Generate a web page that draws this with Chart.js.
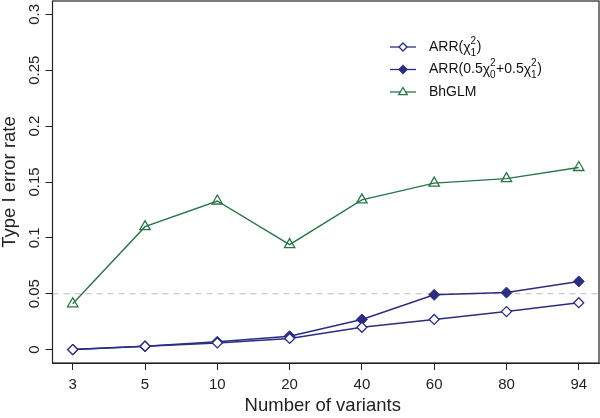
<!DOCTYPE html>
<html>
<head>
<meta charset="utf-8">
<script src="https://cdn.jsdelivr.net/npm/chart.js@4/dist/chart.umd.min.js"></script>
<style>
  html, body { margin: 0; padding: 0; background: #ffffff; }
  #wrap { width: 600px; height: 418px; }
</style>
</head>
<body>
<div id="wrap"><canvas id="c" width="600" height="418"></canvas></div>
<script>
// ---- data ----
const categories = ['3', '5', '10', '20', '40', '60', '80', '94'];
const arrChi1 = [0.000, 0.003, 0.006, 0.010, 0.020, 0.027, 0.034, 0.042];
const arrMix  = [0.000, 0.003, 0.007, 0.012, 0.027, 0.049, 0.051, 0.061];
const bhglm   = [0.041, 0.110, 0.133, 0.094, 0.134, 0.149, 0.153, 0.163];
const yTickValues = [0, 0.05, 0.1, 0.15, 0.2, 0.25, 0.3];
const yTickLabels = ['0', '0.05', '0.1', '0.15', '0.2', '0.25', '0.3'];
const refLevel = 0.05;
const xTitle = 'Number of variants';
const yTitle = 'Type I error rate';

// ---- styles ----
const NAVY = '#2b2d80';
const GREEN = '#2a7449';
const AXIS = '#222222';
const FONT = '"Liberation Sans", Arial, Helvetica, sans-serif';

const toPoints = arr => arr.map((v, i) => ({ x: i + 1, y: v }));

function drawMarker(ctx, style, x, y, r, fill, stroke, lw) {
  ctx.save();
  ctx.lineWidth = lw;
  ctx.strokeStyle = stroke;
  ctx.fillStyle = fill;
  ctx.beginPath();
  if (style === 'rectRot') {
    ctx.moveTo(x, y - r); ctx.lineTo(x + r, y); ctx.lineTo(x, y + r); ctx.lineTo(x - r, y);
  } else {
    ctx.moveTo(x, y - r); ctx.lineTo(x + r * 0.95, y + r * 0.6); ctx.lineTo(x - r * 0.95, y + r * 0.6);
  }
  ctx.closePath();
  ctx.fill();
  ctx.stroke();
  ctx.restore();
}

function drawRich(ctx, x, y, parts) {
  let cx = x;
  for (const p of parts) {
    if (p.t !== undefined) {
      ctx.font = '14px ' + FONT;
      ctx.fillText(p.t, cx, y);
      cx += ctx.measureText(p.t).width;
    } else {
      ctx.font = '14px ' + FONT;
      ctx.fillText('\u03C7', cx, y + 1);
      cx += ctx.measureText('\u03C7').width;
      ctx.font = '10px ' + FONT;
      ctx.fillText(p.sup, cx, y - 6);
      ctx.fillText(p.sub, cx, y + 6);
      cx += Math.max(ctx.measureText(p.sup).width, ctx.measureText(p.sub).width) + 0.5;
    }
  }
}

const legendItems = [
  { parts: [{ t: 'ARR(' }, { sup: '2', sub: '1' }, { t: ')' }], color: NAVY, style: 'rectRot', fill: '#ffffff', r: 4 },
  { parts: [{ t: 'ARR(0.5' }, { sup: '2', sub: '0' }, { t: '+0.5' }, { sup: '2', sub: '1' }, { t: ')' }], color: NAVY, style: 'rectRot', fill: NAVY, r: 4 },
  { parts: [{ t: 'BhGLM' }], color: GREEN, style: 'triangle', fill: '#ffffff', r: 4.5 }
];

const decorPlugin = {
  id: 'decor',
  beforeDatasetsDraw(chart) {
    const { ctx, chartArea: a, scales: { y } } = chart;
    const py = y.getPixelForValue(refLevel);
    ctx.save();
    ctx.strokeStyle = '#bdbdbd';
    ctx.lineWidth = 1.2;
    ctx.setLineDash([6, 5]);
    ctx.beginPath();
    ctx.moveTo(a.left, py);
    ctx.lineTo(a.right, py);
    ctx.stroke();
    ctx.restore();
  },
  afterDraw(chart) {
    const { ctx, chartArea: a, scales: { x, y } } = chart;
    ctx.save();
    // box
    ctx.strokeStyle = AXIS;
    ctx.lineWidth = 1.2;
    ctx.strokeRect(a.left, a.top, a.right - a.left, a.bottom - a.top);

    ctx.fillStyle = AXIS;
    // y tick labels (rotated)
    ctx.font = '15px ' + FONT;
    ctx.textAlign = 'center';
    ctx.textBaseline = 'middle';
    yTickValues.forEach((v, i) => {
      const py = y.getPixelForValue(v);
      ctx.save();
      ctx.translate(35, py);
      ctx.rotate(-Math.PI / 2);
      ctx.fillText(yTickLabels[i], 0, 0);
      ctx.restore();
    });
    // x tick labels
    categories.forEach((c, i) => {
      ctx.fillText(c, x.getPixelForValue(i + 1), 385);
    });
    // titles
    ctx.font = '18.5px ' + FONT;
    ctx.fillText(xTitle, (a.left + a.right) / 2 - 3, 406);
    ctx.save();
    ctx.translate(10, (a.top + a.bottom) / 2);
    ctx.rotate(-Math.PI / 2);
    ctx.fillText(yTitle, 0, 0);
    ctx.restore();

    // legend
    const lx0 = 390, lx1 = 416, tx = 429;
    const rows = [47, 69.5, 92];
    legendItems.forEach((it, i) => {
      const ry = rows[i];
      ctx.strokeStyle = it.color;
      ctx.lineWidth = 1.3;
      ctx.beginPath();
      ctx.moveTo(lx0, ry); ctx.lineTo(lx1, ry); ctx.stroke();
      drawMarker(ctx, it.style, (lx0 + lx1) / 2, ry, it.r, it.fill, it.color, 1.3);
      ctx.fillStyle = '#111111';
      ctx.textAlign = 'left';
      ctx.textBaseline = 'middle';
      drawRich(ctx, tx, ry, it.parts);
    });
    ctx.restore();
  }
};

new Chart(document.getElementById('c'), {
  type: 'line',
  data: {
    datasets: [
      {
        label: 'BhGLM', data: toPoints(bhglm),
        borderColor: GREEN, backgroundColor: '#ffffff', borderWidth: 1.4,
        pointStyle: 'triangle', pointRadius: 6, pointBorderWidth: 1.3,
        pointBackgroundColor: 'rgba(255,255,255,0)', pointBorderColor: GREEN, tension: 0
      },
      {
        label: 'ARR(chi2_1)', data: toPoints(arrChi1),
        borderColor: NAVY, backgroundColor: '#ffffff', borderWidth: 1.5,
        pointStyle: 'rectRot', pointRadius: 5, pointBorderWidth: 1.3,
        pointBackgroundColor: '#ffffff', pointBorderColor: NAVY, tension: 0
      },
      {
        label: 'ARR(mix)', data: toPoints(arrMix),
        borderColor: NAVY, backgroundColor: NAVY, borderWidth: 1.5,
        pointStyle: 'rectRot', pointRadius: 5.5, pointBorderWidth: 1,
        pointBackgroundColor: NAVY, pointBorderColor: NAVY, tension: 0
      }
    ]
  },
  options: {
    responsive: false,
    animation: false,
    devicePixelRatio: 1,
    layout: { autoPadding: false, padding: { top: 1, right: 1, left: 0, bottom: 0 } },
    plugins: { legend: { display: false }, tooltip: { enabled: false } },
    scales: {
      x: {
        type: 'linear', min: 0.72, max: 8.28,
        afterBuildTicks: s => { s.ticks = categories.map((c, i) => ({ value: i + 1 })); },
        afterFit: s => { s.height = 55; },
        ticks: { display: false },
        grid: { drawOnChartArea: false, drawTicks: true, tickLength: 7, color: AXIS, lineWidth: 1 },
        border: { display: true, color: AXIS, width: 1 }
      },
      y: {
        type: 'linear', min: -0.012, max: 0.312,
        afterBuildTicks: s => { s.ticks = yTickValues.map(v => ({ value: v })); },
        afterFit: s => { s.width = 52.5; },
        ticks: { display: false },
        grid: { drawOnChartArea: false, drawTicks: true, tickLength: 7, color: AXIS, lineWidth: 1 },
        border: { display: true, color: AXIS, width: 1 }
      }
    }
  },
  plugins: [decorPlugin]
});
</script>
</body>
</html>
